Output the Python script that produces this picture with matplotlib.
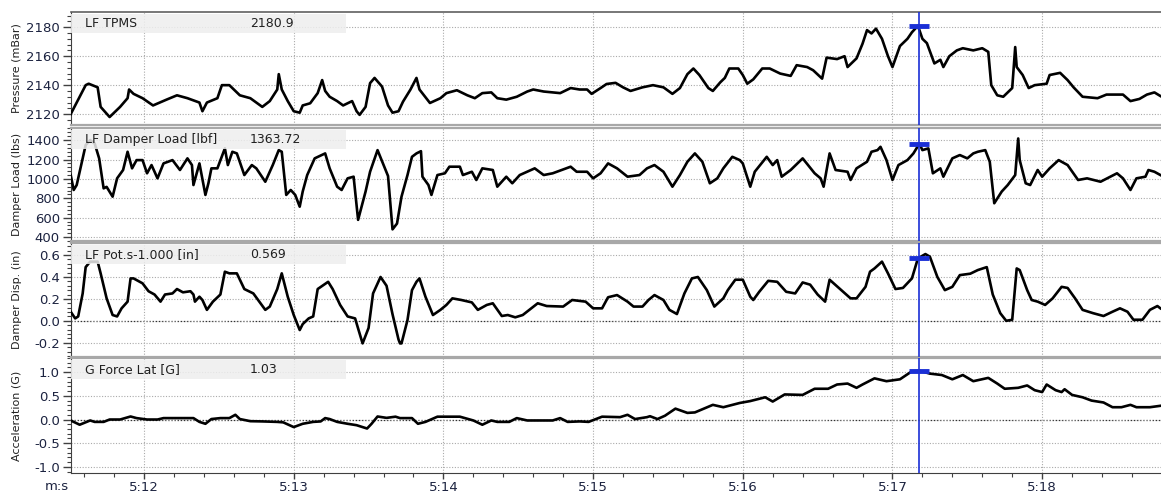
import matplotlib
matplotlib.use('Agg')
import matplotlib.pyplot as plt
from matplotlib.ticker import MultipleLocator, AutoMinorLocator, FuncFormatter
from matplotlib.patches import Rectangle

plt.rcParams['font.family'] = ['DejaVu Sans']
plt.rcParams['axes.unicode_minus'] = False

# time in seconds (5:12 = 312 s)
# LF TPMS [mBar]
tpms_t = [311.51, 311.61, 311.63, 311.69, 311.71, 311.77, 311.84, 311.89, 311.90, 311.93,
          311.99, 312.06, 312.15, 312.22, 312.29, 312.37, 312.39, 312.42, 312.49, 312.52,
          312.57, 312.64, 312.71, 312.79, 312.84, 312.89, 312.90, 312.92, 312.96, 313.00,
          313.04, 313.06, 313.11, 313.16, 313.19, 313.21, 313.24, 313.29, 313.33, 313.39,
          313.42, 313.44, 313.48, 313.51, 313.54, 313.59, 313.63, 313.66, 313.70, 313.73,
          313.78, 313.82, 313.84, 313.91, 313.98, 314.02, 314.09, 314.16, 314.21, 314.26,
          314.32, 314.36, 314.42, 314.49, 314.56, 314.60, 314.67, 314.78, 314.85, 314.91,
          314.96, 314.99, 315.05, 315.09, 315.15, 315.20, 315.25, 315.33, 315.40, 315.47,
          315.53, 315.58, 315.63, 315.67, 315.71, 315.77, 315.80, 315.85, 315.88, 315.91,
          315.97, 316.00, 316.03, 316.07, 316.13, 316.18, 316.25, 316.32, 316.36, 316.43,
          316.47, 316.53, 316.56, 316.63, 316.68, 316.70, 316.76, 316.80, 316.83, 316.86,
          316.89, 316.93, 316.97, 317.00, 317.05, 317.10, 317.13, 317.17, 317.20, 317.23,
          317.28, 317.32, 317.34, 317.38, 317.43, 317.47, 317.54, 317.60, 317.64, 317.66,
          317.70, 317.74, 317.80, 317.82, 317.83, 317.87, 317.91, 317.95, 318.03, 318.05,
          318.12, 318.17, 318.21, 318.27, 318.37, 318.43, 318.54, 318.59, 318.65, 318.70,
          318.75, 318.79]
tpms_v = [2120, 2140, 2141, 2138.5, 2125, 2118, 2125, 2131, 2137, 2134,
          2131, 2126, 2130, 2133, 2131, 2128, 2122, 2128, 2131, 2140,
          2140, 2133, 2131, 2125, 2129, 2137, 2147.6, 2137, 2129, 2122,
          2121, 2126, 2127.5, 2134.5, 2143.5, 2136, 2132, 2129, 2126, 2129,
          2122, 2119.5, 2125, 2141.4, 2145, 2139, 2126, 2121, 2122, 2128.6,
          2137, 2145, 2137, 2127.7, 2131, 2134.5, 2136.5, 2133, 2131, 2134.5,
          2135, 2131, 2130, 2132, 2135.6, 2137, 2135.6, 2134.5, 2138, 2137,
          2137, 2134, 2138, 2140.8, 2141.6, 2138.5, 2136, 2138.5, 2140, 2138.5,
          2134, 2138, 2147.6, 2151.5, 2147, 2138, 2136, 2142, 2145, 2151.5,
          2151.5, 2147, 2141, 2144, 2151.5, 2151.5, 2148, 2146.4, 2153.8, 2152.5,
          2150.3, 2144.5, 2159, 2158, 2160, 2152.5, 2158.5, 2168.6, 2178, 2175.7,
          2179, 2172, 2160, 2152.5, 2167, 2172, 2176.5, 2181, 2172, 2169,
          2155, 2157.5, 2152.5, 2160, 2164, 2165.5, 2164, 2165.5, 2163, 2140,
          2133, 2132, 2138, 2166.3, 2152.5, 2147, 2138, 2140, 2141, 2147,
          2148.5, 2143.5, 2138.5, 2132, 2131, 2133.5, 2133.5, 2129, 2130.5, 2133.5,
          2135, 2132.5]

# LF Damper Load [lbf]
load_t = [311.51, 311.53, 311.55, 311.57, 311.59, 311.61, 311.64, 311.67, 311.70, 311.73,
          311.75, 311.79, 311.82, 311.86, 311.89, 311.92, 311.95, 311.99, 312.02, 312.05,
          312.09, 312.13, 312.19, 312.24, 312.29, 312.32, 312.33, 312.37, 312.41, 312.43,
          312.45, 312.49, 312.54, 312.56, 312.59, 312.62, 312.67, 312.72, 312.75, 312.81,
          312.86, 312.90, 312.92, 312.95, 312.98, 313.01, 313.04, 313.06, 313.09, 313.14,
          313.21, 313.24, 313.29, 313.32, 313.36, 313.40, 313.43, 313.48, 313.51, 313.56,
          313.60, 313.63, 313.66, 313.69, 313.72, 313.76, 313.79, 313.82, 313.85, 313.86,
          313.90, 313.92, 313.96, 314.01, 314.04, 314.11, 314.13, 314.19, 314.22, 314.26,
          314.33, 314.36, 314.42, 314.46, 314.51, 314.61, 314.67, 314.73, 314.85, 314.89,
          314.96, 315.00, 315.05, 315.10, 315.16, 315.23, 315.31, 315.36, 315.41, 315.47,
          315.53, 315.58, 315.63, 315.68, 315.73, 315.78, 315.83, 315.87, 315.93, 315.98,
          316.00, 316.05, 316.08, 316.16, 316.20, 316.23, 316.26, 316.32, 316.40, 316.48,
          316.52, 316.54, 316.58, 316.62, 316.70, 316.72, 316.76, 316.83, 316.86, 316.90,
          316.92, 316.96, 317.00, 317.04, 317.10, 317.14, 317.18, 317.20, 317.24, 317.27,
          317.32, 317.34, 317.40, 317.45, 317.50, 317.54, 317.57, 317.62, 317.65, 317.68,
          317.73, 317.77, 317.82, 317.84, 317.85, 317.89, 317.92, 317.97, 318.00, 318.05,
          318.11, 318.17, 318.24, 318.30, 318.39, 318.50, 318.54, 318.59, 318.63, 318.69,
          318.71, 318.75, 318.79]
load_v = [1040, 886, 937, 1074, 1215, 1349, 1400, 1366, 1212, 903,
          918, 817, 1006, 1092, 1280, 1109, 1194, 1194, 1058, 1143,
          1006, 1160, 1194, 1092, 1212, 1143, 937, 1160, 835, 955,
          1109, 1109, 1315, 1143, 1280, 1263, 1040, 1143, 1109, 971,
          1143, 1297, 1280, 835, 886, 835, 714, 870, 1040, 1212,
          1263, 1109, 920, 886, 1006, 1023, 578, 870, 1074, 1297,
          1143, 1030, 480, 540, 817, 1040, 1228, 1263, 1286, 1023,
          937, 835, 1040, 1058, 1126, 1126, 1040, 1074, 989, 1109,
          1092, 920, 1023, 955, 1040, 1109, 1040, 1058, 1126, 1074,
          1074, 1006, 1058, 1160, 1109, 1023, 1040, 1109, 1143, 1074,
          920, 1040, 1177, 1263, 1177, 955, 1006, 1109, 1228, 1194,
          1160, 920, 1074, 1228, 1143, 1194, 1023, 1092, 1212, 1058,
          1006, 920, 1263, 1092, 1074, 989, 1109, 1177, 1280, 1297,
          1331, 1194, 989, 1143, 1194, 1263, 1364, 1297, 1315, 1058,
          1109, 1023, 1212, 1246, 1212, 1263, 1280, 1297, 1177, 749,
          870, 937, 1040, 1417, 1194, 955, 937, 1092, 1023, 1109,
          1194, 1143, 989, 1006, 971, 1058, 1006, 886, 1006, 1023,
          1092, 1074, 1040]

# LF Pot.s-1.000 [in]
disp_t = [311.51, 311.54, 311.56, 311.59, 311.61, 311.64, 311.69, 311.71, 311.75, 311.79,
          311.82, 311.85, 311.89, 311.91, 311.93, 311.99, 312.03, 312.07, 312.11, 312.14,
          312.19, 312.22, 312.26, 312.31, 312.33, 312.34, 312.37, 312.39, 312.42, 312.46,
          312.51, 312.54, 312.57, 312.62, 312.67, 312.73, 312.77, 312.81, 312.84, 312.89,
          312.92, 312.96, 313.00, 313.04, 313.06, 313.10, 313.13, 313.16, 313.23, 313.26,
          313.31, 313.36, 313.41, 313.46, 313.50, 313.53, 313.58, 313.62, 313.66, 313.70,
          313.71, 313.72, 313.76, 313.79, 313.82, 313.84, 313.88, 313.93, 313.98, 314.02,
          314.06, 314.12, 314.19, 314.23, 314.29, 314.33, 314.39, 314.43, 314.48, 314.53,
          314.63, 314.69, 314.80, 314.86, 314.95, 315.00, 315.06, 315.10, 315.16, 315.23,
          315.27, 315.33, 315.37, 315.41, 315.47, 315.51, 315.56, 315.61, 315.66, 315.70,
          315.76, 315.81, 315.87, 315.90, 315.95, 316.00, 316.05, 316.07, 316.11, 316.17,
          316.23, 316.29, 316.35, 316.40, 316.45, 316.50, 316.55, 316.58, 316.65, 316.72,
          316.76, 316.82, 316.85, 316.88, 316.93, 316.97, 317.02, 317.07, 317.13, 317.17,
          317.22, 317.25, 317.30, 317.35, 317.40, 317.45, 317.52, 317.57, 317.63, 317.67,
          317.72, 317.76, 317.80, 317.83, 317.85, 317.90, 317.93, 317.97, 318.02, 318.07,
          318.13, 318.17, 318.22, 318.27, 318.34, 318.41, 318.47, 318.52, 318.57, 318.61,
          318.67, 318.72, 318.77, 318.79]
disp_v = [0.083, 0.022, 0.04, 0.25, 0.49, 0.54, 0.54, 0.433, 0.205, 0.053,
          0.04, 0.114, 0.175, 0.387, 0.387, 0.342, 0.27, 0.24, 0.175, 0.24,
          0.25, 0.29, 0.26, 0.27, 0.24, 0.175, 0.22, 0.19, 0.10, 0.175,
          0.24, 0.448, 0.433, 0.433, 0.29, 0.25, 0.175, 0.10, 0.13, 0.29,
          0.433, 0.22, 0.053, -0.084, -0.03, 0.022, 0.04, 0.29, 0.356, 0.29,
          0.145, 0.04, 0.022, -0.206, -0.065, 0.25, 0.40, 0.32, 0.06, -0.17,
          -0.206, -0.206, 0.007, 0.28, 0.356, 0.387, 0.22, 0.053, 0.10, 0.145,
          0.205, 0.19, 0.168, 0.10, 0.145, 0.16, 0.044, 0.053, 0.032, 0.053,
          0.16, 0.135, 0.13, 0.19, 0.175, 0.114, 0.114, 0.215, 0.235, 0.175,
          0.13, 0.13, 0.19, 0.235, 0.19, 0.10, 0.062, 0.25, 0.387, 0.40,
          0.28, 0.13, 0.205, 0.28, 0.375, 0.375, 0.22, 0.19, 0.265, 0.365,
          0.356, 0.265, 0.25, 0.35, 0.33, 0.24, 0.175, 0.375, 0.29, 0.205,
          0.205, 0.31, 0.448, 0.478, 0.54, 0.433, 0.29, 0.30, 0.387, 0.57,
          0.609, 0.585, 0.40, 0.28, 0.31, 0.417, 0.43, 0.463, 0.49, 0.24,
          0.07, 0.0, 0.01, 0.478, 0.463, 0.28, 0.19, 0.175, 0.145, 0.205,
          0.31, 0.30, 0.205, 0.10, 0.07, 0.044, 0.083, 0.114, 0.083, 0.01,
          0.01, 0.10, 0.135, 0.114]

# G Force Lat [G]
glat_t = [311.51, 311.57, 311.64, 311.67, 311.73, 311.77, 311.84, 311.91, 311.95, 312.02,
          312.09, 312.13, 312.33, 312.37, 312.41, 312.45, 312.51, 312.57, 312.61, 312.64,
          312.71, 312.79, 312.89, 312.93, 313.00, 313.06, 313.13, 313.18, 313.21, 313.24,
          313.29, 313.36, 313.42, 313.49, 313.52, 313.56, 313.62, 313.68, 313.71, 313.79,
          313.83, 313.88, 313.96, 314.11, 314.20, 314.26, 314.32, 314.36, 314.44, 314.49,
          314.56, 314.73, 314.78, 314.83, 314.91, 314.97, 315.06, 315.18, 315.23, 315.28,
          315.36, 315.38, 315.43, 315.48, 315.55, 315.63, 315.68, 315.80, 315.87, 315.98,
          316.05, 316.15, 316.20, 316.28, 316.40, 316.48, 316.57, 316.63, 316.70, 316.76,
          316.80, 316.88, 316.96, 317.05, 317.13, 317.18, 317.25, 317.33, 317.40, 317.47,
          317.54, 317.64, 317.70, 317.75, 317.84, 317.90, 317.95, 318.00, 318.03, 318.09,
          318.13, 318.15, 318.20, 318.27, 318.33, 318.41, 318.47, 318.53, 318.59, 318.63,
          318.72, 318.79]
glat_v = [-0.02, -0.11, -0.02, -0.05, -0.05, 0.0, 0.0, 0.064, 0.03, 0.0,
          0.0, 0.03, 0.03, -0.05, -0.09, 0.01, 0.03, 0.03, 0.10, 0.01,
          -0.035, -0.04, -0.05, -0.06, -0.16, -0.09, -0.05, -0.04, 0.03, 0.01,
          -0.05, -0.09, -0.12, -0.19, -0.09, 0.064, 0.035, 0.06, 0.03, 0.03,
          -0.09, -0.05, 0.06, 0.06, -0.02, -0.11, -0.02, -0.05, -0.05, 0.03,
          -0.02, -0.02, 0.03, -0.05, -0.04, -0.05, 0.06, 0.05, 0.10, 0.01,
          0.05, 0.07, 0.01, 0.08, 0.23, 0.14, 0.15, 0.31, 0.26, 0.35,
          0.39, 0.47, 0.38, 0.53, 0.52, 0.65, 0.65, 0.74, 0.76, 0.67,
          0.74, 0.87, 0.81, 0.85, 1.02, 1.03, 0.97, 0.94, 0.85, 0.94,
          0.81, 0.88, 0.76, 0.65, 0.67, 0.72, 0.62, 0.58, 0.74, 0.62,
          0.58, 0.64, 0.52, 0.47, 0.40, 0.36, 0.26, 0.26, 0.31, 0.26,
          0.26, 0.29]

names = ['LF TPMS', 'LF Damper Load [lbf]', 'LF Pot.s-1.000 [in]', 'G Force Lat [G]']
ylabels = ['Pressure (mBar)', 'Damper Load (lbs)', 'Damper Disp. (in)', 'Acceleration (G)']
cursor_time = 317.18
cursor_vals = [2180.9, 1363.72, 0.569, 1.03]
cursor_text = ['2180.9', '1363.72', '0.569', '1.03']
ylims = [(2112.5, 2190.5), (360, 1525), (-0.33, 0.71), (-1.13, 1.30)]
ysteps = [20, 200, 0.2, 0.5]
yfmt = ['{:.0f}', '{:.0f}', '{:.1f}', '{:.1f}']
series = [(tpms_t, tpms_v), (load_t, load_v), (disp_t, disp_v), (glat_t, glat_v)]

W, H = 1161, 497
panel_px = [(12, 125), (128, 241), (243, 357), (358, 473)]
left_px = 71
tick_col = '#1c2340'

fig = plt.figure(figsize=(W / 100, H / 100), dpi=100)

for i, (top, bot) in enumerate(panel_px):
    ax = fig.add_axes([left_px / W, 1 - bot / H, (W - left_px) / W, (bot - top) / H])
    ph = bot - top
    t, v = series[i]
    ax.plot(t, v, color='black', lw=1.9, zorder=3)
    ax.set_xlim(311.512, 318.794)
    ax.set_ylim(*ylims[i])

    ax.yaxis.set_major_locator(MultipleLocator(ysteps[i]))
    ax.yaxis.set_minor_locator(AutoMinorLocator(5))
    ax.yaxis.set_major_formatter(FuncFormatter(lambda y, p, f=yfmt[i]: f.format(y)))
    ax.xaxis.set_major_locator(MultipleLocator(1))
    ax.xaxis.set_minor_locator(MultipleLocator(0.2))
    ax.xaxis.set_major_formatter(FuncFormatter(lambda s, p: f'{int(s // 60)}:{int(round(s % 60)):02d}'))

    ax.grid(True, which='major', color='#aaaaaa', ls=(0, (1, 1.5)), lw=0.8, zorder=1)
    if ylims[i][0] < 0:
        ax.axhline(0, color='#333333', ls=(0, (1, 1.5)), lw=0.9, zorder=1)

    ax.tick_params(axis='y', which='major', direction='out', length=6, width=1,
                   color='#404040', labelsize=9.5, labelcolor=tick_col, pad=2)
    ax.tick_params(axis='y', which='minor', direction='out', length=3, width=0.8, color='#404040')
    if i == 3:
        ax.tick_params(axis='x', which='major', direction='out', length=4, width=1,
                       color='#404040', labelsize=9.5, labelcolor=tick_col, pad=2)
        ax.tick_params(axis='x', which='minor', direction='out', length=3, width=0.8, color='#404040')
    else:
        ax.tick_params(axis='x', which='both', length=0, labelbottom=False)

    ax.set_ylabel(ylabels[i], fontsize=8, color='#202020')
    ax.yaxis.set_label_coords(-0.045, 0.5)

    ax.spines['right'].set_visible(False)
    ax.spines['left'].set_color('#404040')
    if i == 0:
        ax.spines['top'].set_color('#606060')
        ax.spines['top'].set_linewidth(1.2)
    else:
        ax.spines['top'].set_color('#a8a8a8')
        ax.spines['top'].set_linewidth(1.6)
    if i == 3:
        ax.spines['bottom'].set_color('#404040')
    else:
        ax.spines['bottom'].set_color('#a8a8a8')
        ax.spines['bottom'].set_linewidth(1.6)

    # channel name box
    ax.add_patch(Rectangle((0, 1 - 21 / ph), 275 / (W - left_px), 19 / ph,
                           transform=ax.transAxes, facecolor='#eeeeee', edgecolor='none',
                           alpha=0.85, zorder=4))
    ax.text(14 / (W - left_px), 1 - 11.5 / ph, names[i], transform=ax.transAxes,
            fontsize=9, color='#202020', va='center', ha='left', zorder=5)
    ax.text(179 / (W - left_px), 1 - 11.5 / ph, cursor_text[i], transform=ax.transAxes,
            fontsize=9, color='#202020', va='center', ha='left', zorder=5)

    # cursor
    ax.axvline(cursor_time, color='#1a2fd6', lw=1.2, zorder=6)
    ax.plot([cursor_time], [cursor_vals[i]], marker='_', ms=15, mew=3.5,
            color='#1a2fd6', zorder=7)

fig.text(57 / W, 1 - 487 / H, 'm:s', fontsize=9.5, color=tick_col, ha='center', va='center')

fig.savefig('out.png', dpi=100)
